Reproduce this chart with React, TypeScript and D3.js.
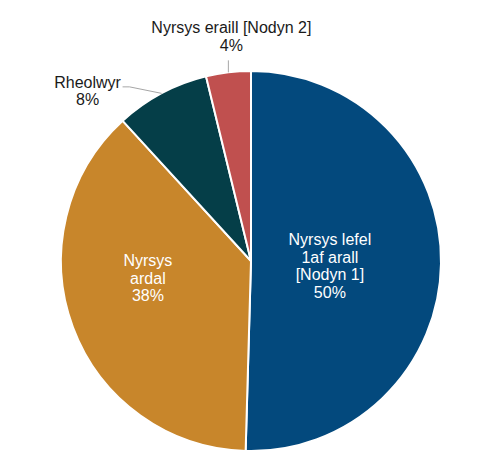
import React from "react";
import * as d3 from "d3";

const categories = ["Nyrsys lefel 1af arall [Nodyn 1]", "Nyrsys ardal", "Rheolwyr", "Nyrsys eraill [Nodyn 2]"];
const values = [50.45, 37.75, 8.0, 3.8];
const labelLines = [
  ["Nyrsys lefel", "1af arall", "[Nodyn 1]", "50%"],
  ["Nyrsys", "ardal", "38%"],
  ["Rheolwyr", "8%"],
  ["Nyrsys eraill [Nodyn 2]", "4%"],
];
const colors = ["#03497D", "#C8862B", "#053E48", "#C0504F"];

const W = 494;
const H = 474;
const cx = 251;
const cy = 261;
const R = 190;
const LH = 17.5;
const FONT = "'Liberation Sans', Arial, sans-serif";

// label placement: inside labels by radius factor & angle (deg), outside via leader
const inside = [
  { rf: 0.416, ang: 93.6 },
  { rf: 0.55, ang: 260.6 },
];

export default function App() {
  const data = categories.map((c, i) => ({ c, v: values[i], i }));
  const pie = d3.pie<any>().value((d) => d.v).sort(null);
  const arcs = pie(data);
  const arc = d3.arc<any>().innerRadius(0).outerRadius(R);

  const polar = (angDeg: number, r: number) => {
    const a = (angDeg * Math.PI) / 180;
    return [cx + r * Math.sin(a), cy - r * Math.cos(a)];
  };

  const mid = (a: any) => ((a.startAngle + a.endAngle) / 2) * (180 / Math.PI);

  // outside label geometry
  const tealMid = mid(arcs[2]);
  const tealEdge = polar(tealMid, R);
  const tealElbow = [tealEdge[0] - 32, tealEdge[1] - 6.5];
  const tealEnd = [tealElbow[0] - 7, tealElbow[1]];

  const redMid = mid(arcs[3]);
  const redEdge = polar(redMid, R);
  const redTop = [redEdge[0], redEdge[1] - 12];

  const textBlock = (lines: string[], x: number, yc: number, fill: string, key: string) => {
    const y0 = yc - ((lines.length - 1) * LH) / 2;
    return (
      <text key={key} x={x} textAnchor="middle" fill={fill} fontFamily={FONT} fontSize={16}>
        {lines.map((l, j) => (
          <tspan key={j} x={x} y={y0 + j * LH} dy="0.35em">
            {l}
          </tspan>
        ))}
      </text>
    );
  };

  return (
    <svg width={W} height={H} style={{ display: "block", position: "absolute", left: 0, top: 0 }}>
      <rect width={W} height={H} fill="#fff" />
      <g transform={`translate(${cx},${cy})`}>
        {arcs.map((a, i) => (
          <path key={i} d={arc(a) as string} fill={colors[i]} stroke="#fff" strokeWidth={2} strokeLinejoin="round" />
        ))}
      </g>
      {inside.map((p, i) => {
        const [x, y] = polar(p.ang, R * p.rf);
        return textBlock(labelLines[i], x, y, "#fff", "in" + i);
      })}
      <polyline
        points={[tealEdge, tealElbow, tealEnd].map((p) => p.join(",")).join(" ")}
        fill="none"
        stroke="#A6A6A6"
        strokeWidth={1}
      />
      {textBlock(labelLines[2], tealEnd[0] - 35, tealEnd[1] + 4, "#1a1a1a", "out2")}
      <line x1={redEdge[0]} y1={redEdge[1]} x2={redTop[0]} y2={redTop[1]} stroke="#A6A6A6" strokeWidth={1} />
      {textBlock(labelLines[3], redTop[0] + 3, redTop[1] - 24, "#1a1a1a", "out3")}
    </svg>
  );
}
